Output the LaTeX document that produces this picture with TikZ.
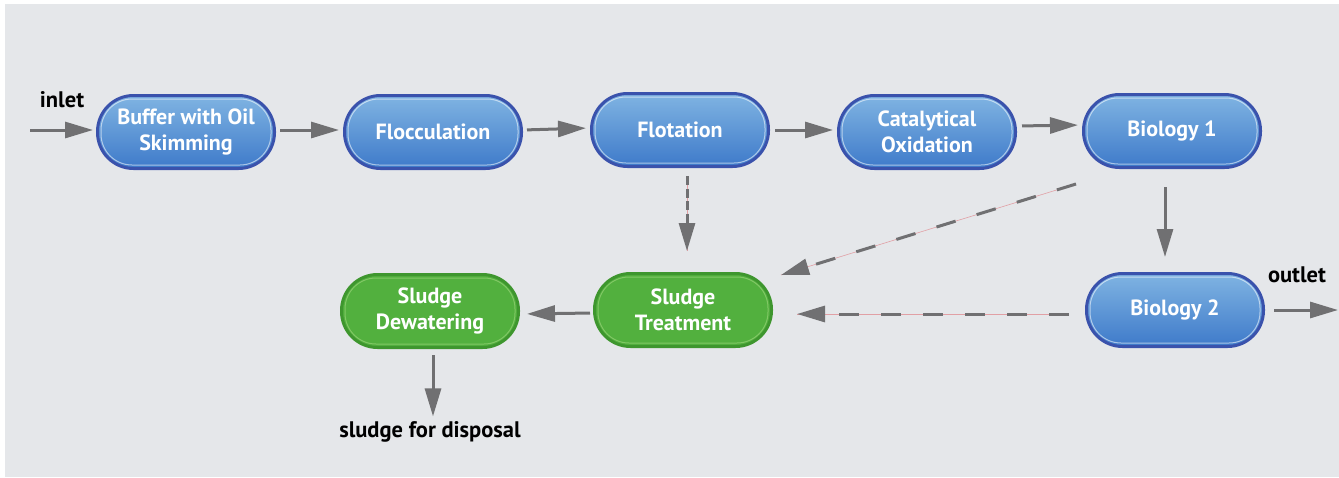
\documentclass[tikz,border=0pt]{standalone}
\usepackage{fontspec}
\setmainfont{PT Sans}
\usetikzlibrary{arrows.meta}
\definecolor{bgc}{RGB}{229,231,234}
\definecolor{arrc}{RGB}{112,112,114}
\definecolor{bluebd}{RGB}{58,82,172}
\definecolor{bluetop}{RGB}{128,180,226}
\definecolor{bluemid}{RGB}{42,98,182}
\definecolor{bluebot}{RGB}{62,122,202}
\definecolor{greenfill}{RGB}{82,176,62}
\definecolor{greenbd}{RGB}{62,150,46}
\definecolor{greenin}{RGB}{140,205,110}
\definecolor{pinkc}{RGB}{225,160,165}
\tikzset{
  pill/.style={rectangle, rounded corners=36pt, minimum width=177pt, minimum height=73pt,
    line width=3pt, text=white, align=center,
    font=\fontsize{22}{26}\selectfont\bfseries, inner sep=0pt},
  bluepill/.style={pill, draw=bluebd, top color=bluetop, middle color=bluemid, bottom color=bluebot},
  greenpill/.style={pill, draw=greenbd, fill=greenfill},
  innerblue/.style={draw=white, opacity=0.55, line width=1pt, rounded corners=31pt},
  innergreen/.style={draw=greenin, opacity=0.8, line width=1pt, rounded corners=31pt},
  arr/.style={draw=arrc, line width=3pt, -{Triangle[length=28pt,width=16pt]}, arrc},
  dasharr/.style={arr, dash pattern=on 20pt off 22pt,
    preaction={draw=pinkc, line width=0.6pt, solid, -}},
  vdasharr/.style={arr, dash pattern=on 9pt off 3.5pt,
    preaction={draw=pinkc, line width=0.6pt, solid, -}},
  lbl/.style={text=black, font=\fontsize{22.5}{26}\selectfont\bfseries, inner sep=0pt}
}
\begin{document}
\begin{tikzpicture}[x=1pt,y=-1pt]
\useasboundingbox (0,0) rectangle (1339,477);
\fill[white] (0,0) rectangle (1339,477);
\fill[bgc] (5,4) rectangle (1339,477);

\node[bluepill] (buf) at (186,132) {Buffer with Oil\\Skimming};
\node[bluepill] (floc) at (433,132) {Flocculation};
\node[bluepill] (flot) at (680,130) {Flotation};
\node[bluepill] (cat) at (927,132) {Catalytical\\Oxidation};
\node[bluepill] (bio1) at (1172,131) {Biology 1};
\node[bluepill] (bio2) at (1175,310) {Biology 2};
\node[greenpill] (st) at (683,310) {Sludge\\Treatment};
\node[greenpill] (sd) at (430,311) {Sludge\\Dewatering};

\foreach \n in {buf,floc,flot,cat,bio1,bio2}
  \draw[innerblue] ([xshift=5pt,yshift=-5pt]\n.north west) rectangle ([xshift=-5pt,yshift=5pt]\n.south east);
\foreach \n in {st,sd}
  \draw[innergreen] ([xshift=5pt,yshift=-5pt]\n.north west) rectangle ([xshift=-5pt,yshift=5pt]\n.south east);

\node[lbl] (inl) at (62,100) {inlet};
\node[lbl] (outl) at (1297,275) {outlet};
\node[lbl] (disp) at (430,432) {sludge for disposal};
\coordinate (inpt) at (30,130);
\coordinate (outpt) at (1338,310);

\draw[arr] (inpt) -- ([xshift=-3pt,yshift=2pt]buf.west);
\draw[arr, shorten <=4pt, shorten >=4pt] ([yshift=2pt]buf.east) -- ([yshift=2pt]floc.west);
\draw[arr, shorten <=4pt, shorten >=4pt] ([yshift=2pt]floc.east) -- ([yshift=2pt]flot.west);
\draw[arr, shorten <=5pt, shorten >=4pt] (flot.east) -- ([yshift=2pt]cat.west);
\draw[arr, shorten <=5pt, shorten >=4pt] ([yshift=6pt]cat.east) -- ([yshift=6pt]bio1.west);
\draw[arr, shorten <=18pt, shorten >=15pt] ([xshift=-7pt]bio1.south) -- ([xshift=-10pt]bio2.north);
\draw[arr, shorten <=9pt] (bio2.east) -- (outpt);
\draw[vdasharr, shorten <=8pt, shorten >=21pt] ([xshift=7pt]flot.south) -- ([xshift=4pt]st.north);
\draw[dasharr] ([shift={(-6pt,-15pt)}]bio1.south west) -- ([shift={(8pt,-3pt)}]st.north east);
\draw[dasharr, shorten <=16pt, shorten >=24pt] ([yshift=-4pt]bio2.west) -- ([yshift=-4pt]st.east);
\draw[arr, shorten <=3pt, shorten >=7pt] ([yshift=-3pt]st.west) -- ([yshift=-3pt]sd.east);
\draw[arr, shorten <=6pt, shorten >=5pt] ([xshift=3pt]sd.south) -- ([xshift=3pt]disp.north);
\end{tikzpicture}
\end{document}
